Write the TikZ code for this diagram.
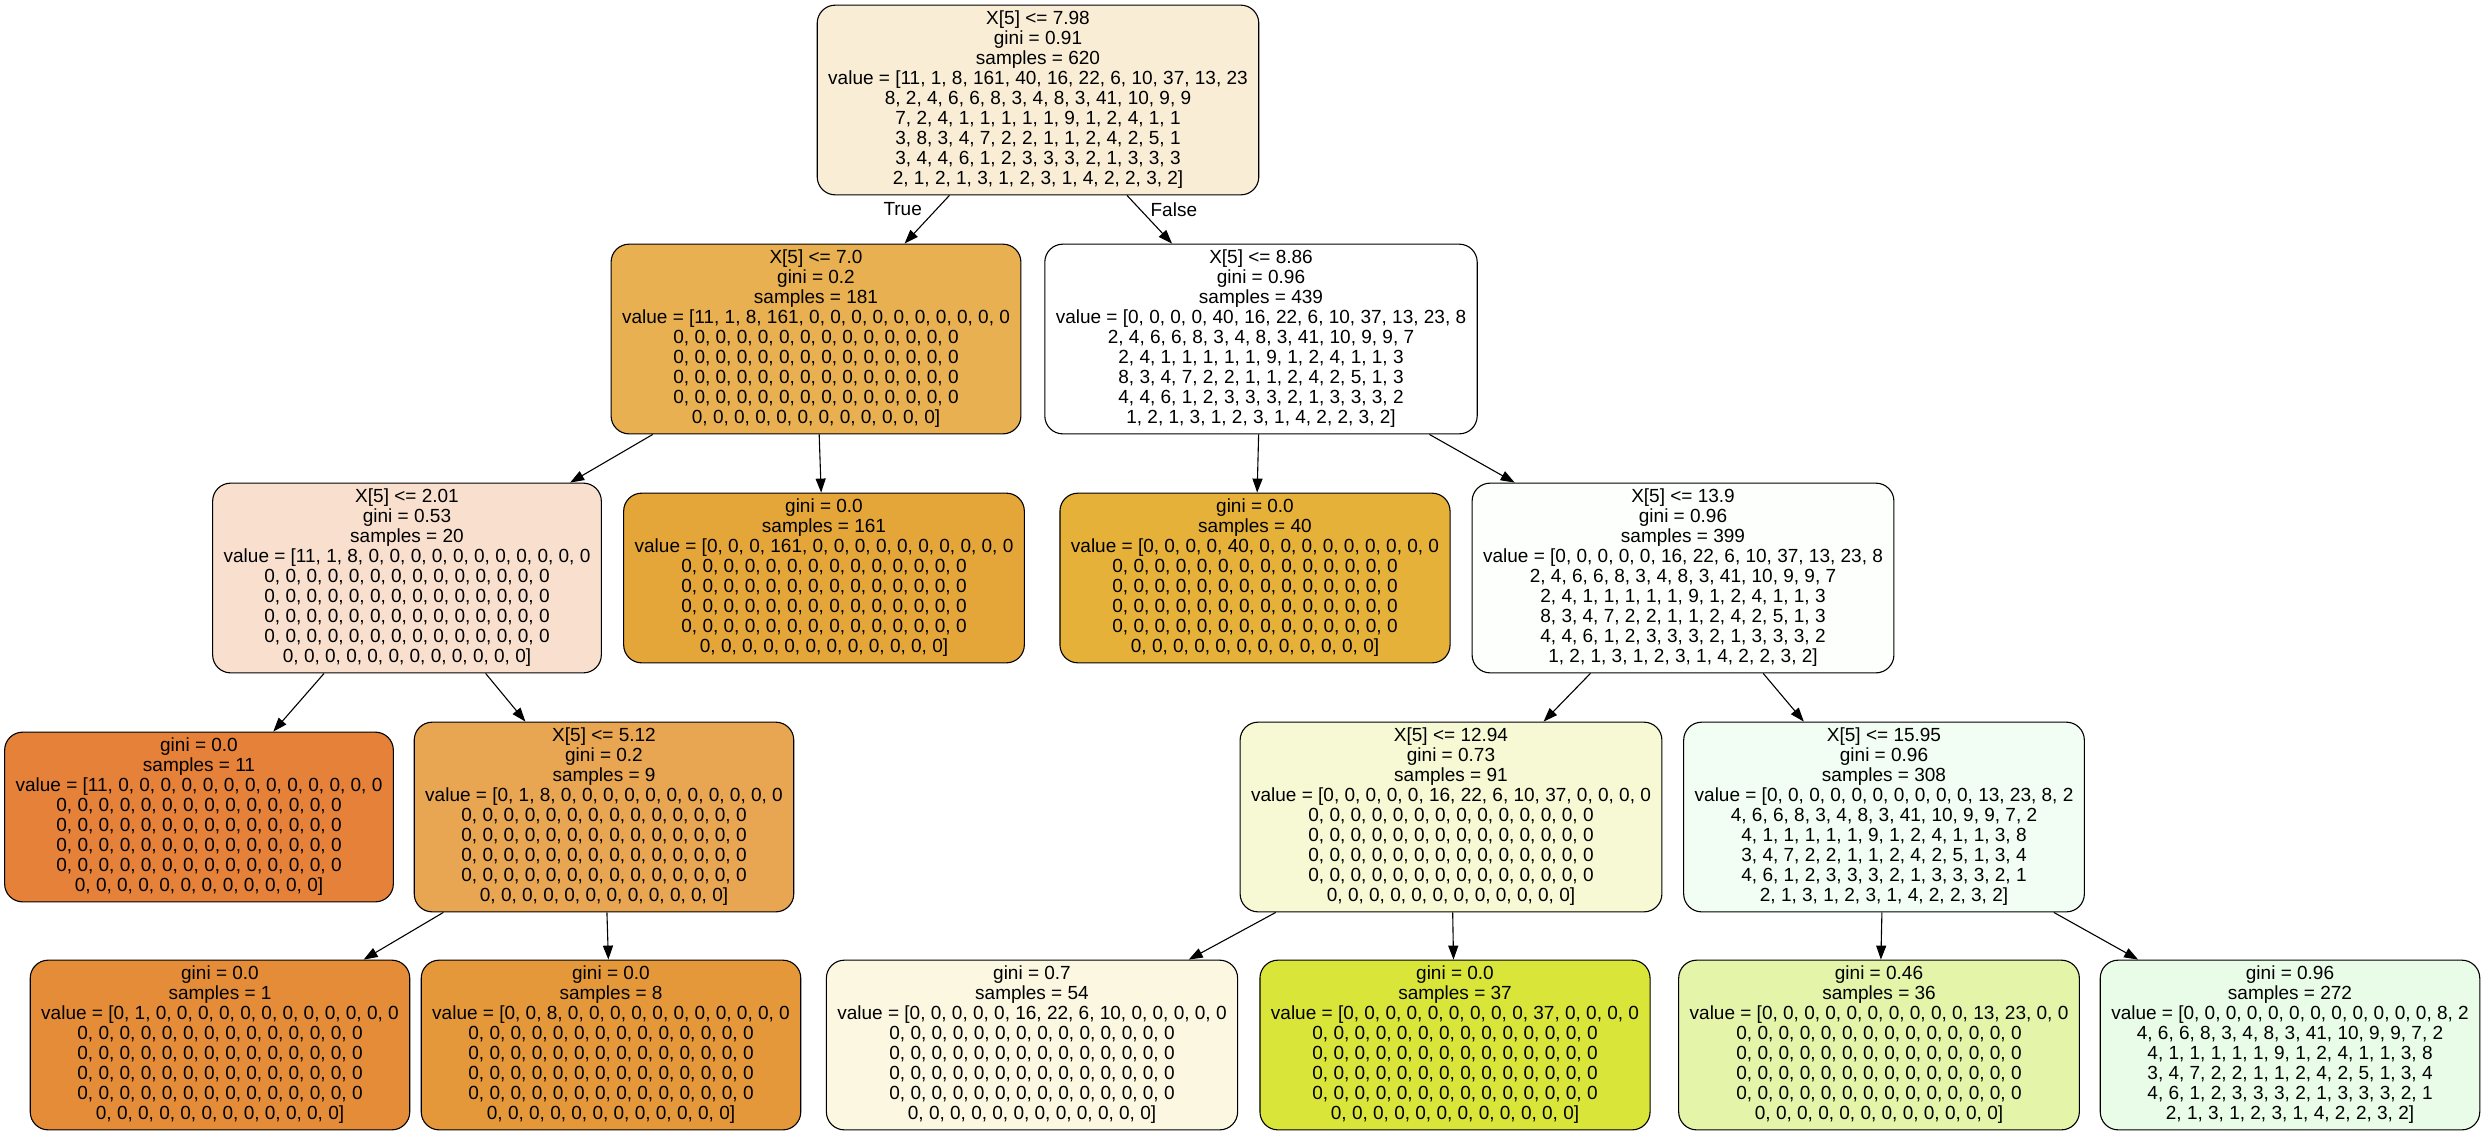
\documentclass[tikz,border=0pt]{standalone}
\usepackage{fontspec}
\setmainfont{Liberation Sans}
\usetikzlibrary{positioning, arrows.meta}
\definecolor{c620}{HTML}{F9EDD6}
\definecolor{c181}{HTML}{E8B050}
\definecolor{c439}{HTML}{FFFFFF}
\definecolor{c20}{HTML}{F9E0CE}
\definecolor{c161}{HTML}{E5A639}
\definecolor{c40}{HTML}{E5B139}
\definecolor{c399}{HTML}{FDFFFD}
\definecolor{c11}{HTML}{E58139}
\definecolor{c9}{HTML}{E8A552}
\definecolor{c91}{HTML}{F7F9D4}
\definecolor{c308}{HTML}{F2FDF3}
\definecolor{c1}{HTML}{E58C39}
\definecolor{c8}{HTML}{E59839}
\definecolor{c54}{HTML}{FBF7E0}
\definecolor{c37}{HTML}{DAE539}
\definecolor{c36}{HTML}{E4F4A9}
\definecolor{c272}{HTML}{E8FCE8}
\newcommand{\zerorow}{0, 0, 0, 0, 0, 0, 0, 0, 0, 0, 0, 0, 0, 0}
\newcommand{\zerolast}{0, 0, 0, 0, 0, 0, 0, 0, 0, 0, 0, 0]}
\newcommand{\zerotail}{\zerorow\\\zerorow\\\zerorow\\\zerorow\\\zerolast}
\newcommand{\tailA}{2, 4, 6, 6, 8, 3, 4, 8, 3, 41, 10, 9, 9, 7\\2, 4, 1, 1, 1, 1, 1, 9, 1, 2, 4, 1, 1, 3\\8, 3, 4, 7, 2, 2, 1, 1, 2, 4, 2, 5, 1, 3\\4, 4, 6, 1, 2, 3, 3, 3, 2, 1, 3, 3, 3, 2\\1, 2, 1, 3, 1, 2, 3, 1, 4, 2, 2, 3, 2]}
\newcommand{\tailB}{4, 6, 6, 8, 3, 4, 8, 3, 41, 10, 9, 9, 7, 2\\4, 1, 1, 1, 1, 1, 9, 1, 2, 4, 1, 1, 3, 8\\3, 4, 7, 2, 2, 1, 1, 2, 4, 2, 5, 1, 3, 4\\4, 6, 1, 2, 3, 3, 3, 2, 1, 3, 3, 3, 2, 1\\2, 1, 3, 1, 2, 3, 1, 4, 2, 2, 3, 2]}
\tikzset{
        ->, % makes the edges directed
        >={Triangle[length=14pt, width=10pt]}, % filled arrow heads
        every node/.style={font=\fontsize{19}{20}\selectfont}, % same text size everywhere
        tnode/.style={draw, line width=1.1pt, rounded corners=18pt, align=center, inner xsep=11pt, inner ysep=6pt}, % tree boxes
        lbl/.style={inner sep=0pt},
        edgeline/.style={line width=1.1pt},
    }
\begin{document}
\begin{tikzpicture}[node distance=239pt]
    \useasboundingbox (0pt,0pt) rectangle (2483pt,-1136pt);
    \node[tnode, fill=c620] (n620) at (1038pt,-100pt) {X[5] <= 7.98\\gini = 0.91\\samples = 620\\value = [11, 1, 8, 161, 40, 16, 22, 6, 10, 37, 13, 23\\8, 2, 4, 6, 6, 8, 3, 4, 8, 3, 41, 10, 9, 9\\7, 2, 4, 1, 1, 1, 1, 1, 9, 1, 2, 4, 1, 1\\3, 8, 3, 4, 7, 2, 2, 1, 1, 2, 4, 2, 5, 1\\3, 4, 4, 6, 1, 2, 3, 3, 3, 2, 1, 3, 3, 3\\2, 1, 2, 1, 3, 1, 2, 3, 1, 4, 2, 2, 3, 2]};
    \node[tnode, fill=c181, below of=n620, xshift=-222pt] (n181) {X[5] <= 7.0\\gini = 0.2\\samples = 181\\value = [11, 1, 8, 161, 0, 0, 0, 0, 0, 0, 0, 0, 0, 0\\\zerotail};
    \node[tnode, fill=c439, below of=n620, xshift=223pt] (n439) {X[5] <= 8.86\\gini = 0.96\\samples = 439\\value = [0, 0, 0, 0, 40, 16, 22, 6, 10, 37, 13, 23, 8\\\tailA};
    \node[tnode, fill=c20, below of=n181, xshift=-409pt] (n20) {X[5] <= 2.01\\gini = 0.53\\samples = 20\\value = [11, 1, 8, 0, 0, 0, 0, 0, 0, 0, 0, 0, 0, 0\\\zerotail};
    \node[tnode, fill=c161, below of=n181, xshift=8pt] (n161) {gini = 0.0\\samples = 161\\value = [0, 0, 0, 161, 0, 0, 0, 0, 0, 0, 0, 0, 0, 0\\\zerotail};
    \node[tnode, fill=c40, below of=n439, xshift=-6pt] (n40) {gini = 0.0\\samples = 40\\value = [0, 0, 0, 0, 40, 0, 0, 0, 0, 0, 0, 0, 0, 0\\\zerotail};
    \node[tnode, fill=c399, below of=n439, xshift=422pt] (n399) {X[5] <= 13.9\\gini = 0.96\\samples = 399\\value = [0, 0, 0, 0, 0, 16, 22, 6, 10, 37, 13, 23, 8\\\tailA};
    \node[tnode, fill=c11, below of=n20, xshift=-208pt] (n11) {gini = 0.0\\samples = 11\\value = [11, 0, 0, 0, 0, 0, 0, 0, 0, 0, 0, 0, 0, 0\\\zerotail};
    \node[tnode, fill=c9, below of=n20, xshift=197pt] (n9) {X[5] <= 5.12\\gini = 0.2\\samples = 9\\value = [0, 1, 8, 0, 0, 0, 0, 0, 0, 0, 0, 0, 0, 0\\\zerotail};
    \node[tnode, fill=c91, below of=n399, xshift=-232pt] (n91) {X[5] <= 12.94\\gini = 0.73\\samples = 91\\value = [0, 0, 0, 0, 0, 16, 22, 6, 10, 37, 0, 0, 0, 0\\\zerotail};
    \node[tnode, fill=c308, below of=n399, xshift=201pt] (n308) {X[5] <= 15.95\\gini = 0.96\\samples = 308\\value = [0, 0, 0, 0, 0, 0, 0, 0, 0, 0, 13, 23, 8, 2\\\tailB};
    \node[tnode, fill=c1, below of=n9, xshift=-384pt, yshift=11pt] (n1) {gini = 0.0\\samples = 1\\value = [0, 1, 0, 0, 0, 0, 0, 0, 0, 0, 0, 0, 0, 0\\\zerotail};
    \node[tnode, fill=c8, below of=n9, xshift=7pt, yshift=11pt] (n8) {gini = 0.0\\samples = 8\\value = [0, 0, 8, 0, 0, 0, 0, 0, 0, 0, 0, 0, 0, 0\\\zerotail};
    \node[tnode, fill=c54, below of=n91, xshift=-419pt, yshift=11pt] (n54) {gini = 0.7\\samples = 54\\value = [0, 0, 0, 0, 0, 16, 22, 6, 10, 0, 0, 0, 0, 0\\\zerotail};
    \node[tnode, fill=c37, below of=n91, xshift=4pt, yshift=11pt] (n37) {gini = 0.0\\samples = 37\\value = [0, 0, 0, 0, 0, 0, 0, 0, 0, 37, 0, 0, 0, 0\\\zerotail};
    \node[tnode, fill=c36, below of=n308, xshift=-5pt, yshift=11pt] (n36) {gini = 0.46\\samples = 36\\value = [0, 0, 0, 0, 0, 0, 0, 0, 0, 0, 13, 23, 0, 0\\\zerotail};
    \node[tnode, fill=c272, below of=n308, xshift=406pt, yshift=11pt] (n272) {gini = 0.96\\samples = 272\\value = [0, 0, 0, 0, 0, 0, 0, 0, 0, 0, 0, 0, 8, 2\\\tailB};
    \draw[edgeline]
      (n620) edge node[lbl, pos=0.29, left=14pt] (tTrue) {True} (n181)
      (n620) edge node[lbl, pos=0.29, right=10pt] (tFalse) {False} (n439)
      (n181) edge (n20)
      (n181) edge (n161)
      (n439) edge (n40)
      (n439) edge (n399)
      (n20) edge (n11)
      (n20) edge (n9)
      (n399) edge (n91)
      (n399) edge (n308)
      (n9) edge (n1)
      (n9) edge (n8)
      (n91) edge (n54)
      (n91) edge (n37)
      (n308) edge (n36)
      (n308) edge (n272);
  \end{tikzpicture}
\end{document}
